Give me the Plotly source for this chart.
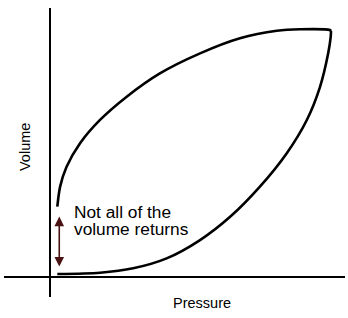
import plotly.graph_objects as go

# Inflation limb (lower curve): pressure vs volume (arbitrary units, 0-100)
inflation_pressure = [2.6, 17.8, 29.6, 41.5, 53.4, 64.1, 74.7, 84.2, 91.4, 96.1, 99.0, 99.9, 100.0]
inflation_volume = [1.2, 1.7, 3.5, 7.5, 14.9, 24.3, 36.5, 49.9, 63.4, 76.8, 90.3, 97.0, 99.3]

# Deflation limb (upper curve)
deflation_pressure = [100.0, 99.6, 89.0, 80.7, 67.6, 53.4, 39.1, 27.3, 17.8, 10.7, 5.9, 3.6, 2.6]
deflation_volume = [99.3, 99.7, 100.0, 99.4, 96.4, 90.3, 82.2, 72.8, 63.4, 54.0, 44.5, 36.5, 28.4]

# Residual volume arrow (pressure, volume range)
arrow_pressure = 3.3
arrow_volume_top = 25.0
arrow_volume_bottom = 4.2

annotation_lines = ["Not all of the", "volume returns"]
x_label = "Pressure"
y_label = "Volume"

W, H = 348, 318
# plot area in pixels
L, R, T, B = 4, 345, 8, 297
ox, oy = 50, 277  # axis origin pixel
sx, sy = 2.81, 2.477  # px per unit

x_range = [-(ox - L) / sx, (R - ox) / sx]
y_range = [-(B - oy) / sy, (oy - T) / sy]


def px_to_paper(px, py):
    return (px - L) / (R - L), (B - py) / (B - T)


fig = go.Figure()
line_style = dict(color="black", width=2.6, shape="spline", smoothing=0.8)
fig.add_trace(go.Scatter(x=inflation_pressure, y=inflation_volume, mode="lines",
                         line=line_style, hoverinfo="skip"))
fig.add_trace(go.Scatter(x=deflation_pressure, y=deflation_volume, mode="lines",
                         line=line_style, hoverinfo="skip"))

font = "Liberation Sans, Arial, Helvetica, sans-serif"

fig.add_annotation(x=arrow_pressure, y=arrow_volume_bottom, ax=arrow_pressure, ay=arrow_volume_top,
                   xref="x", yref="y", axref="x", ayref="y", text="",
                   showarrow=True, arrowhead=2, startarrowhead=2, arrowside="end+start",
                   arrowsize=1.2, arrowwidth=1.6, arrowcolor="#4a1212")

text_x_px = 72
for i, t in enumerate(annotation_lines):
    fig.add_annotation(x=(text_x_px - ox) / sx, y=(oy - (212 + 16.5 * i)) / sy,
                       xref="x", yref="y", text=t, showarrow=False,
                       xanchor="left", yanchor="middle",
                       font=dict(family=font, size=17.3, color="black"))

px_, py_ = px_to_paper(201.7, 302.7)
fig.add_annotation(x=px_, y=py_, xref="paper", yref="paper",
                   text=x_label, showarrow=False, xanchor="center", yanchor="middle",
                   font=dict(family=font, size=14.5, color="black"))
px_, py_ = px_to_paper(25, 147)
fig.add_annotation(x=px_, y=py_, xref="paper", yref="paper",
                   text=y_label, showarrow=False, textangle=-90, xanchor="center", yanchor="middle",
                   font=dict(family=font, size=14.5, color="black"))

axis_common = dict(showgrid=False, showticklabels=False, ticks="", showline=False,
                   zeroline=True, zerolinecolor="black", zerolinewidth=1.5)
fig.update_xaxes(range=x_range, **axis_common)
fig.update_yaxes(range=y_range, **axis_common)

fig.update_layout(width=W, height=H, margin=dict(l=L, r=W - R, t=T, b=H - B),
                  paper_bgcolor="white", plot_bgcolor="white", showlegend=False)

fig.write_html("out.html")
